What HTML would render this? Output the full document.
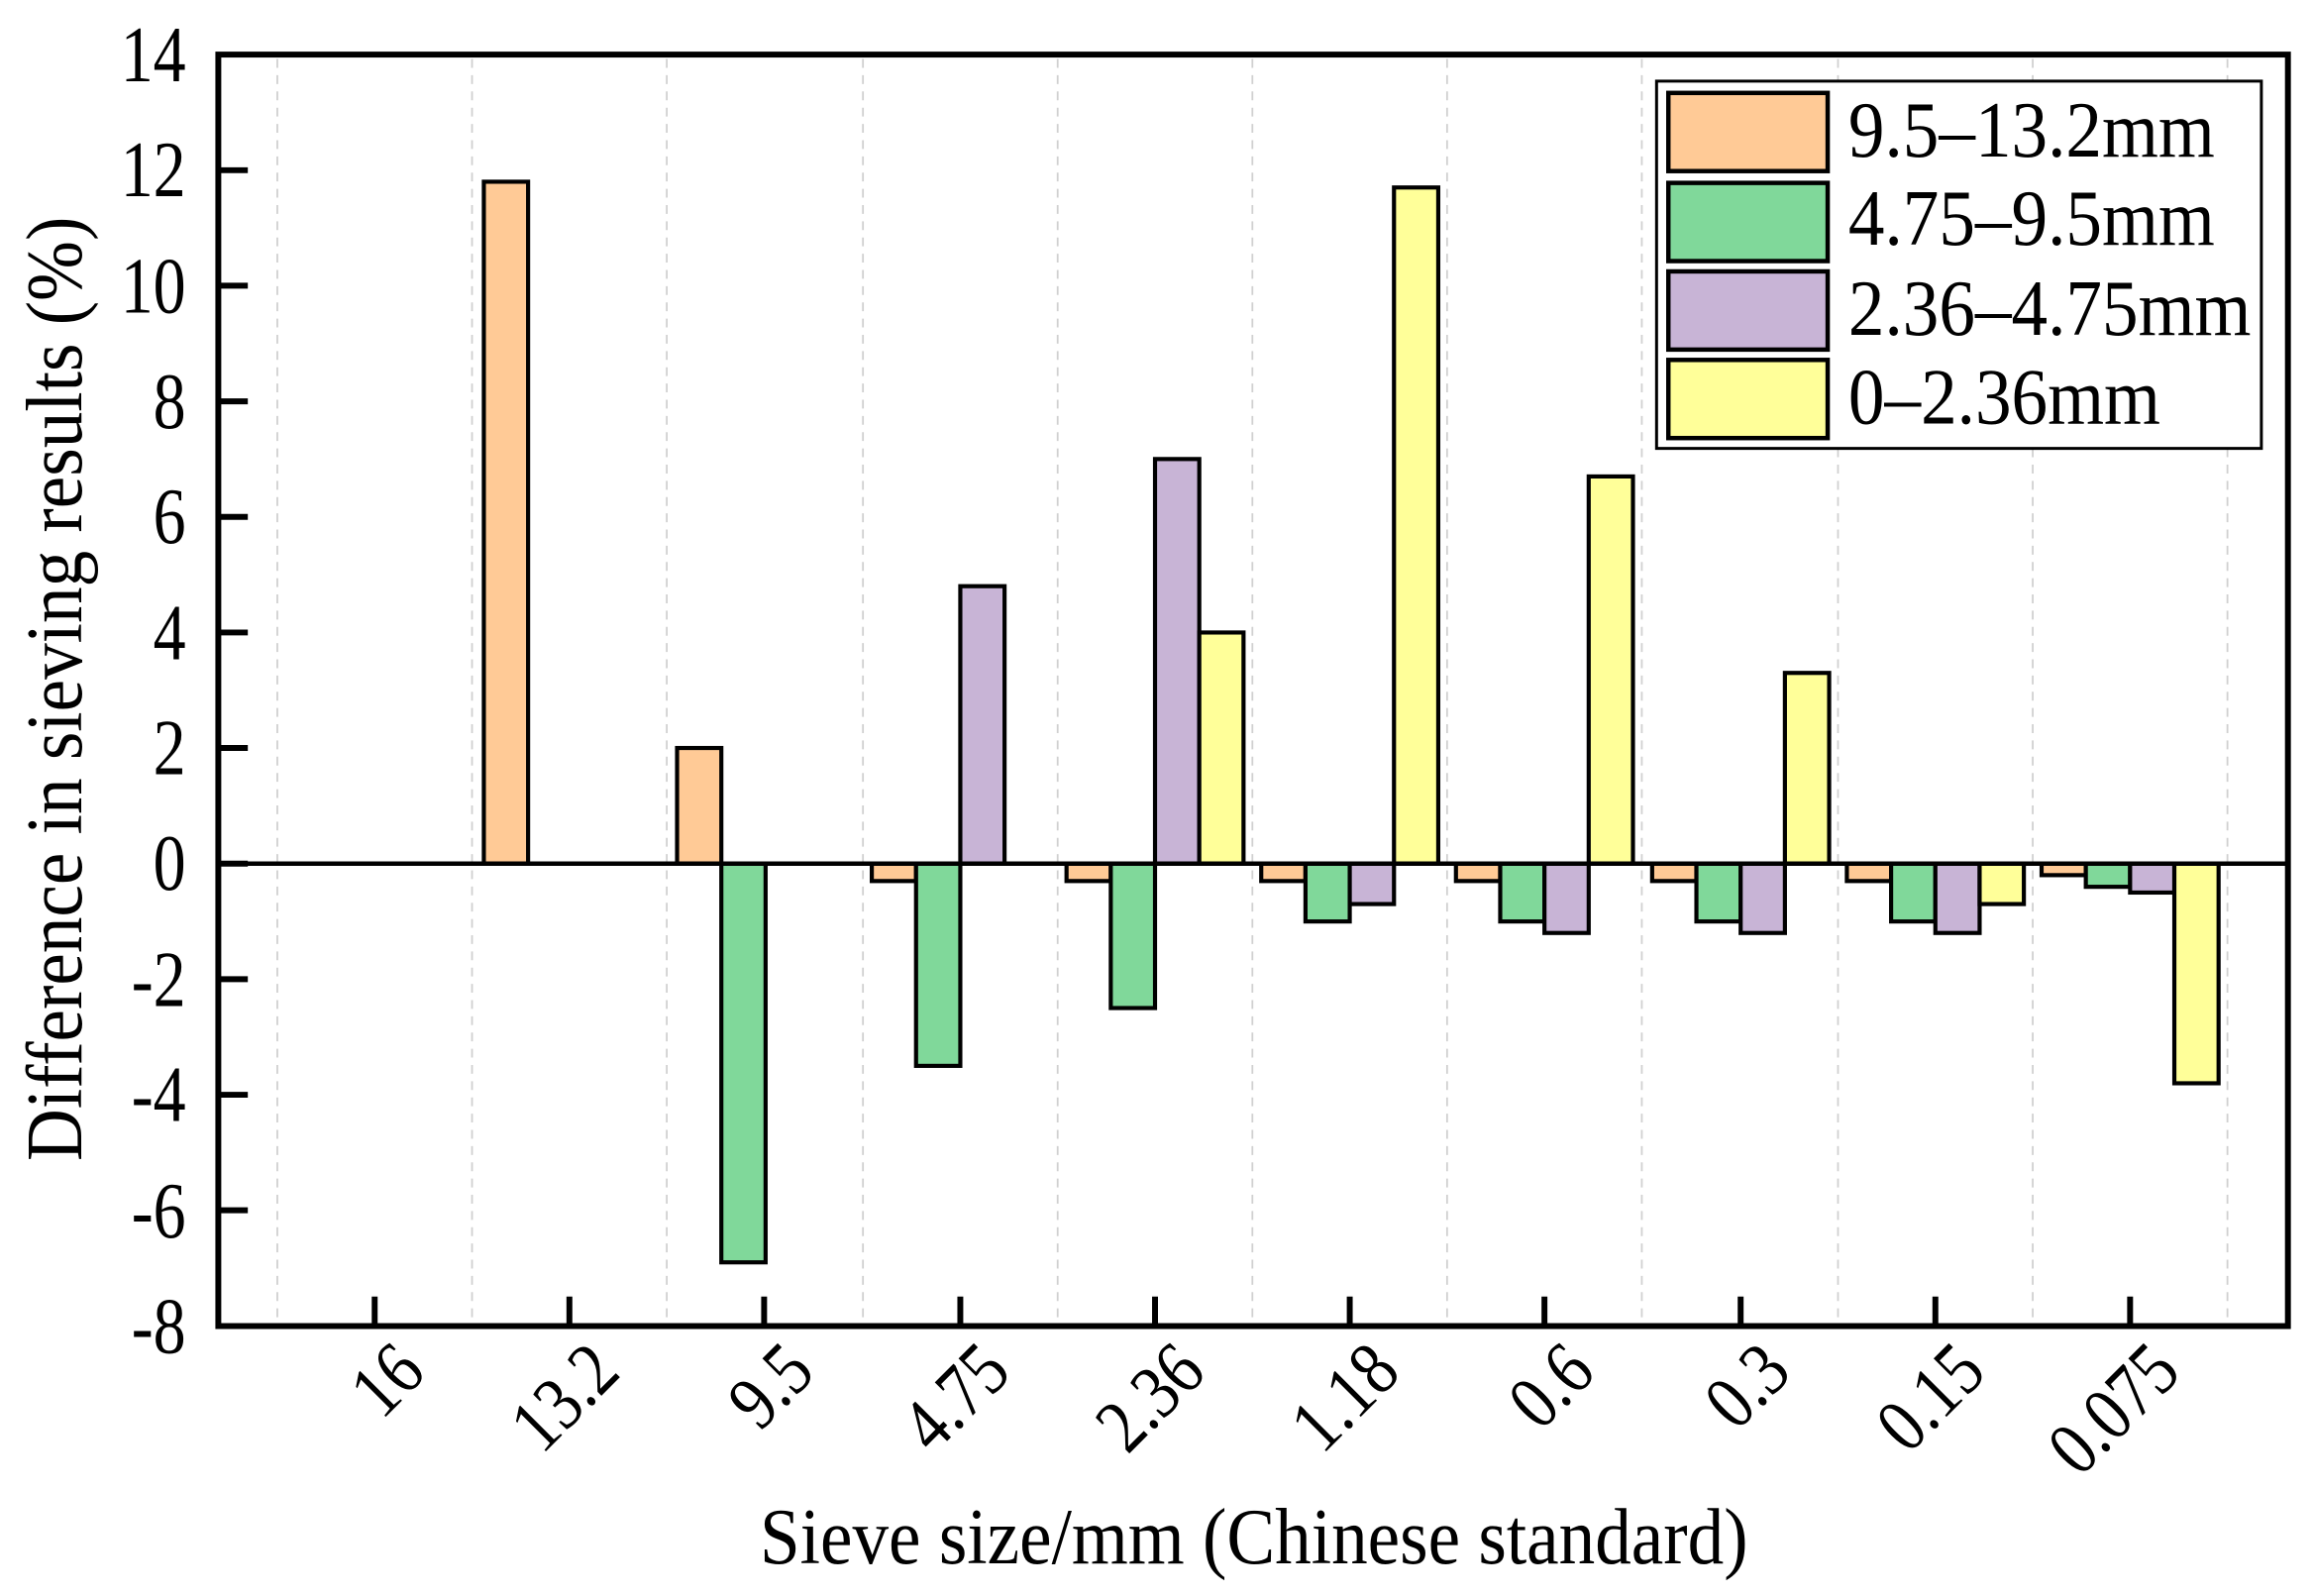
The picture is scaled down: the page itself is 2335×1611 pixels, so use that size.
<!DOCTYPE html>
<html><head><meta charset="utf-8"><style>html,body{margin:0;padding:0;background:#fff}svg{display:block}</style></head><body>
<svg width="2335" height="1611" viewBox="0 0 1568 1082" preserveAspectRatio="none" xmlns="http://www.w3.org/2000/svg" font-family="Liberation Serif, serif">
<rect width="1568" height="1082" fill="#fff"/>
<g stroke="#d0d0d0" stroke-width="1.2" stroke-dasharray="6,5">
<line x1="188" y1="40" x2="188" y2="897"/><line x1="320" y1="40" x2="320" y2="897"/><line x1="452" y1="40" x2="452" y2="897"/><line x1="585" y1="40" x2="585" y2="897"/><line x1="717" y1="40" x2="717" y2="897"/><line x1="849" y1="40" x2="849" y2="897"/><line x1="981" y1="40" x2="981" y2="897"/><line x1="1113" y1="40" x2="1113" y2="897"/><line x1="1246" y1="40" x2="1246" y2="897"/><line x1="1378" y1="40" x2="1378" y2="897"/><line x1="1510" y1="40" x2="1510" y2="897"/>
</g>
<g stroke="#000" stroke-width="2.8">
<rect x="328" y="123.2" width="30" height="462.3" fill="#FFCA96"/>
<rect x="459" y="507.1" width="30" height="78.4" fill="#FFCA96"/>
<rect x="489" y="585.5" width="30" height="270.3" fill="#80D89A"/>
<rect x="591" y="585.5" width="30" height="11.8" fill="#FFCA96"/>
<rect x="621" y="585.5" width="30" height="137.1" fill="#80D89A"/>
<rect x="651" y="397.4" width="30" height="188.1" fill="#C8B4D6"/>
<rect x="723" y="585.5" width="30" height="11.8" fill="#FFCA96"/>
<rect x="753" y="585.5" width="30" height="97.9" fill="#80D89A"/>
<rect x="783" y="311.2" width="30" height="274.3" fill="#C8B4D6"/>
<rect x="813" y="428.8" width="30" height="156.7" fill="#FFFF99"/>
<rect x="855" y="585.5" width="30" height="11.8" fill="#FFCA96"/>
<rect x="885" y="585.5" width="30" height="39.2" fill="#80D89A"/>
<rect x="915" y="585.5" width="30" height="27.4" fill="#C8B4D6"/>
<rect x="945" y="127.1" width="30" height="458.4" fill="#FFFF99"/>
<rect x="987" y="585.5" width="30" height="11.8" fill="#FFCA96"/>
<rect x="1017" y="585.5" width="30" height="39.2" fill="#80D89A"/>
<rect x="1047" y="585.5" width="30" height="47" fill="#C8B4D6"/>
<rect x="1077" y="323" width="30" height="262.5" fill="#FFFF99"/>
<rect x="1120" y="585.5" width="30" height="11.8" fill="#FFCA96"/>
<rect x="1150" y="585.5" width="30" height="39.2" fill="#80D89A"/>
<rect x="1180" y="585.5" width="30" height="47" fill="#C8B4D6"/>
<rect x="1210" y="456.2" width="30" height="129.3" fill="#FFFF99"/>
<rect x="1252" y="585.5" width="30" height="11.8" fill="#FFCA96"/>
<rect x="1282" y="585.5" width="30" height="39.2" fill="#80D89A"/>
<rect x="1312" y="585.5" width="30" height="47" fill="#C8B4D6"/>
<rect x="1342" y="585.5" width="30" height="27.4" fill="#FFFF99"/>
<rect x="1384" y="585.5" width="30" height="7.8" fill="#FFCA96"/>
<rect x="1414" y="585.5" width="30" height="15.7" fill="#80D89A"/>
<rect x="1444" y="585.5" width="30" height="19.6" fill="#C8B4D6"/>
<rect x="1474" y="585.5" width="30" height="148.9" fill="#FFFF99"/>
</g>
<line x1="148" y1="585.5" x2="1550" y2="585.5" stroke="#000" stroke-width="3"/>
<rect x="148" y="37" width="1403" height="862" fill="none" stroke="#000" stroke-width="4"/>
<g stroke="#000" stroke-width="4">
<line x1="148" y1="115.4" x2="168" y2="115.4"/><line x1="148" y1="193.7" x2="168" y2="193.7"/><line x1="148" y1="272.1" x2="168" y2="272.1"/><line x1="148" y1="350.4" x2="168" y2="350.4"/><line x1="148" y1="428.8" x2="168" y2="428.8"/><line x1="148" y1="507.1" x2="168" y2="507.1"/><line x1="148" y1="585.5" x2="168" y2="585.5"/><line x1="148" y1="663.8" x2="168" y2="663.8"/><line x1="148" y1="742.2" x2="168" y2="742.2"/><line x1="148" y1="820.5" x2="168" y2="820.5"/>
<line x1="254" y1="899" x2="254" y2="879"/><line x1="386" y1="899" x2="386" y2="879"/><line x1="518" y1="899" x2="518" y2="879"/><line x1="651" y1="899" x2="651" y2="879"/><line x1="783" y1="899" x2="783" y2="879"/><line x1="915" y1="899" x2="915" y2="879"/><line x1="1047" y1="899" x2="1047" y2="879"/><line x1="1180" y1="899" x2="1180" y2="879"/><line x1="1312" y1="899" x2="1312" y2="879"/><line x1="1444" y1="899" x2="1444" y2="879"/>
</g>
<g font-size="54" text-anchor="end">
<text transform="translate(126,55) scale(0.82,1)">14</text>
<text transform="translate(126,133) scale(0.82,1)">12</text>
<text transform="translate(126,212) scale(0.82,1)">10</text>
<text transform="translate(126,290) scale(0.82,1)">8</text>
<text transform="translate(126,368) scale(0.82,1)">6</text>
<text transform="translate(126,447) scale(0.82,1)">4</text>
<text transform="translate(126,525) scale(0.82,1)">2</text>
<text transform="translate(126,603) scale(0.82,1)">0</text>
<text transform="translate(126,682) scale(0.82,1)">-2</text>
<text transform="translate(126,760) scale(0.82,1)">-4</text>
<text transform="translate(126,839) scale(0.82,1)">-6</text>
<text transform="translate(126,917) scale(0.82,1)">-8</text>
</g>
<g font-size="52" text-anchor="end">
<text transform="translate(290,932) rotate(-45) scale(0.85,1)">16</text>
<text transform="translate(422,932) rotate(-45) scale(0.85,1)">13.2</text>
<text transform="translate(554,932) rotate(-45) scale(0.85,1)">9.5</text>
<text transform="translate(687,932) rotate(-45) scale(0.85,1)">4.75</text>
<text transform="translate(819,932) rotate(-45) scale(0.85,1)">2.36</text>
<text transform="translate(951,932) rotate(-45) scale(0.85,1)">1.18</text>
<text transform="translate(1083,932) rotate(-45) scale(0.85,1)">0.6</text>
<text transform="translate(1216,932) rotate(-45) scale(0.85,1)">0.3</text>
<text transform="translate(1348,932) rotate(-45) scale(0.85,1)">0.15</text>
<text transform="translate(1480,932) rotate(-45) scale(0.85,1)">0.075</text>
</g>
<text transform="translate(850,1060) scale(0.91,1)" font-size="54" text-anchor="middle">Sieve size/mm (Chinese standard)</text>
<text transform="translate(55,467) rotate(-90) scale(0.91,1)" font-size="54" text-anchor="middle">Difference in sieving results (%)</text>
<rect x="1123" y="55" width="410" height="249" fill="#fff" stroke="#000" stroke-width="2"/>
<g stroke="#000" stroke-width="3">
<rect x="1131" y="63" width="108" height="53" fill="#FFCA96"/>
<rect x="1131" y="124" width="108" height="53" fill="#80D89A"/>
<rect x="1131" y="184" width="108" height="53" fill="#C8B4D6"/>
<rect x="1131" y="244" width="108" height="53" fill="#FFFF99"/>
</g>
<g font-size="54">
<text transform="translate(1253,106) scale(0.91,1)">9.5–13.2mm</text>
<text transform="translate(1253,166) scale(0.91,1)">4.75–9.5mm</text>
<text transform="translate(1253,227) scale(0.91,1)">2.36–4.75mm</text>
<text transform="translate(1253,287) scale(0.91,1)">0–2.36mm</text>
</g>
</svg>
</body></html>
